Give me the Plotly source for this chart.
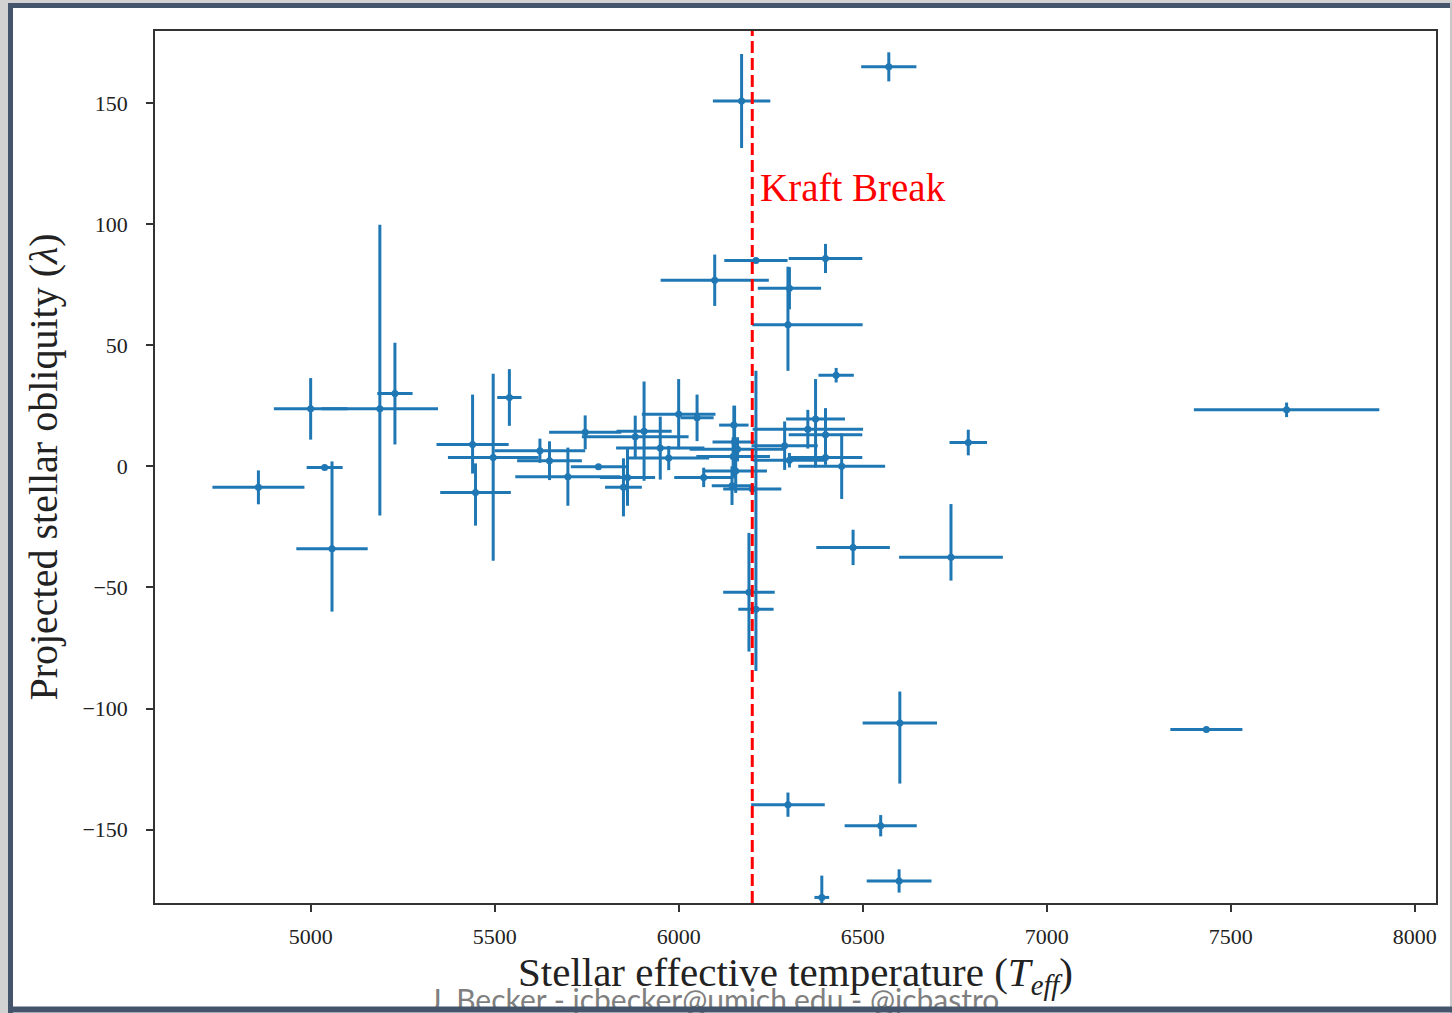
import plotly.graph_objects as go

# Stellar effective temperature (K) and its lower / upper uncertainties
teff = [4858, 5000, 5188, 5229, 5038, 5058, 5440, 5448, 5496, 5540,
        5623, 5649, 5699, 5782, 5746, 5850, 5861, 5882, 5906, 5950,
        5973, 6000, 6050, 6068, 6150, 6152, 6148, 6155, 6145, 6160,
        6200, 6210, 6191, 6210, 6399, 6098, 6301, 6297, 6428, 6372,
        6351, 6399, 6288, 6787, 6301, 6399, 6443, 6474, 6740, 6601,
        6297, 6549, 6599, 6389, 6171, 6571, 7652, 7434]
teff_err_lo = [125, 100, 158, 48, 49, 97, 98, 96, 123, 33,
               123, 88, 143, 75, 98, 50, 75, 145, 75, 120,
               110, 100, 45, 80, 40, 60, 100, 85, 55, 130,
               79, 48, 70, 86, 100, 147, 86, 97, 48, 80,
               150, 100, 90, 51, 100, 100, 118, 100, 141, 101,
               100, 98, 88, 20, 78, 75, 252, 98]
teff_err_hi = [125, 100, 158, 48, 49, 97, 98, 96, 123, 33,
               123, 88, 143, 75, 98, 50, 75, 145, 75, 120,
               110, 100, 45, 80, 40, 60, 100, 85, 55, 130,
               79, 48, 70, 86, 100, 147, 86, 203, 48, 80,
               150, 100, 90, 51, 100, 100, 118, 100, 141, 101,
               100, 98, 88, 20, 78, 75, 252, 98]

# Projected stellar obliquity (deg) and its lower / upper uncertainties
lam = [-8.7, 23.7, 23.7, 30.0, -0.5, -34.0, 9.0, -10.8, 3.6, 28.4,
       6.4, 2.3, -4.3, -0.2, 14.0, -8.7, -4.6, 12.2, 14.5, 7.5,
       3.4, 21.5, 20.0, -4.6, 17.0, 10.0, 4.0, -2.0, -8.0, 7.0,
       -9.4, -59.0, -52.0, 85.0, 85.8, 76.8, 73.5, 58.4, 37.6, 19.5,
       15.3, 13.0, 8.5, 9.8, 2.5, 3.6, 0.0, -33.5, -37.6, -106.0,
       -139.7, -148.4, -171.2, -178.0, 150.8, 164.9, 23.3, -108.7]
lam_err_lo = [7, 12.7, 44, 21, 1, 26, 12, 13.7, 42.6, 11.7,
              5, 8, 12, 1, 7, 12, 11.7, 8.7, 20.5, 13,
              5, 14.5, 9.6, 4, 8, 15, 8, 9, 8, 5,
              2, 25.5, 24.5, 1, 6, 10.6, 8.7, 19, 3, 20,
              8, 11, 10, 5.3, 3, 3, 13.5, 7.3, 9.6, 25,
              5, 4.4, 4.8, 9, 19.4, 6, 3, 1]
lam_err_hi = [7, 12.7, 76, 21, 1, 36, 20.6, 12, 34.6, 11.7,
              5, 8, 12, 1, 7, 12, 11.7, 8.7, 20.5, 13,
              5, 14.5, 9.6, 4, 8, 15, 8, 9, 8, 5,
              2, 98.4, 24.5, 1, 6, 10.6, 8.7, 24, 3, 16.5,
              8, 11, 10, 5.3, 3, 3, 13.5, 7.3, 22, 13,
              5, 4.4, 4.8, 9, 19.4, 6, 3, 1]

KRAFT_BREAK = 6200
x_ticks = [5000, 5500, 6000, 6500, 7000, 7500, 8000]
y_ticks = [-150, -100, -50, 0, 50, 100, 150]

W, H = 1452, 1013
L, R, T, B = 155, 16, 31, 110
PW, PH = W - L - R, H - T - B


def px(xp):
    return (xp - L) / PW


def py(yp):
    return (H - B - yp) / PH


BLUE = "#1f77b4"
FRAME = "#44546a"
SERIF = "Liberation Serif, DejaVu Serif, serif"

fig = go.Figure()
fig.add_trace(go.Scatter(
    x=teff, y=lam, mode="markers",
    marker=dict(color=BLUE, size=7),
    error_x=dict(type="data", symmetric=False, array=teff_err_hi,
                 arrayminus=teff_err_lo, color=BLUE, thickness=3, width=0),
    error_y=dict(type="data", symmetric=False, array=lam_err_hi,
                 arrayminus=lam_err_lo, color=BLUE, thickness=3, width=0),
    showlegend=False, hoverinfo="skip",
))

shapes = [
    # Kraft break
    dict(type="line", xref="x", yref="paper", x0=KRAFT_BREAK, x1=KRAFT_BREAK,
         y0=0, y1=1, line=dict(color="red", width=3, dash="12px,5px"), layer="above"),
    # slide frame
    dict(type="rect", xref="paper", yref="paper", x0=px(0), x1=px(8), y0=py(H), y1=py(0),
         fillcolor="#d2d2d2", line=dict(width=0), layer="below"),
    dict(type="rect", xref="paper", yref="paper", x0=px(8), x1=px(13), y0=py(H), y1=py(0),
         fillcolor=FRAME, line=dict(width=0), layer="below"),
    dict(type="rect", xref="paper", yref="paper", x0=px(0), x1=px(W), y0=py(3), y1=py(0),
         fillcolor="#d2d2d2", line=dict(width=0), layer="below"),
    dict(type="rect", xref="paper", yref="paper", x0=px(8), x1=px(W), y0=py(8), y1=py(3),
         fillcolor=FRAME, line=dict(width=0), layer="below"),
    dict(type="rect", xref="paper", yref="paper", x0=px(1450), x1=px(W), y0=py(H), y1=py(3),
         fillcolor="#c8c8c8", line=dict(width=0), layer="below"),
]

annotations = [
    dict(text="Kraft Break", x=KRAFT_BREAK, y=115, xref="x", yref="y",
         xanchor="left", yanchor="middle", xshift=6, showarrow=False,
         font=dict(family=SERIF, size=39, color="red")),
    dict(text="J. Becker - jcbecker@umich.edu - @jcbastro", x=px(714), y=py(999),
         xref="paper", yref="paper", xanchor="center", yanchor="middle",
         showarrow=False, font=dict(family="Lato, Open Sans, sans-serif", size=30, color="#7f7f7f")),
    # bottom edge of the slide frame, drawn over the credit line
    dict(text="", x=px(8), y=py(H), xref="paper", yref="paper", xanchor="left",
         yanchor="bottom", showarrow=False, width=W, height=5, bgcolor=FRAME, borderpad=0),
]

axis_common = dict(
    showgrid=False, zeroline=False, showline=True, mirror=True,
    linecolor="#333333", linewidth=1.5, ticks="outside", ticklen=7,
    tickwidth=1.5, tickcolor="#333333",
    tickfont=dict(family=SERIF, size=22, color="#222222"),
)

fig.update_layout(
    width=W, height=H,
    margin=dict(l=L, r=R, t=T, b=B, pad=0),
    paper_bgcolor="white", plot_bgcolor="white",
    xaxis=dict(range=[4577, 8058], tickvals=x_ticks,
               ticktext=[str(v) for v in x_ticks], ticklabelstandoff=6,
               title=dict(text="Stellar effective temperature (<i>T</i><sub><i>eff</i></sub>)",
                          font=dict(family=SERIF, size=41, color="#222222"), standoff=0),
               **axis_common),
    yaxis=dict(range=[-180.3, 179.7], tickvals=y_ticks,
               ticktext=[str(v).replace("-", "\u2212") for v in y_ticks],
               ticklabelstandoff=14,
               title=dict(text="Projected stellar obliquity (<i>λ</i>)",
                          font=dict(family=SERIF, size=40, color="#222222"), standoff=12),
               **axis_common),
    shapes=shapes,
    annotations=annotations,
)

fig.write_html("out.html")
